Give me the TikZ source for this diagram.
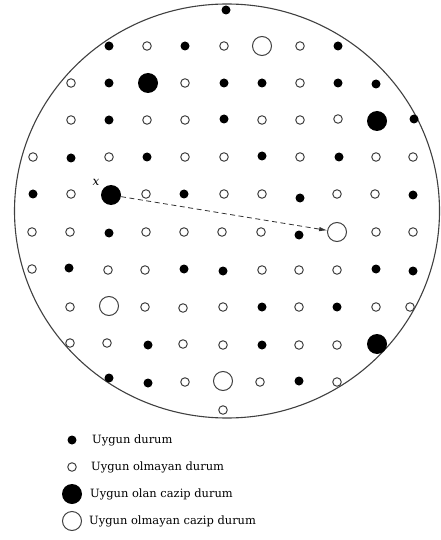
\documentclass[tikz,border=0pt]{standalone}
\usepackage{fontspec}
\setmainfont{DejaVu Serif}
\usetikzlibrary{arrows.meta}

\begin{document}
\begin{tikzpicture}[x=1bp, y=-1bp]
\tikzstyle{dotok} = [circle, inner sep=0pt, minimum size=9bp, fill=black]
\tikzstyle{dotno} = [circle, inner sep=0pt, minimum size=8.5bp, draw=black!75, line width=1bp]
\tikzstyle{bigok} = [circle, inner sep=0pt, minimum size=20bp, fill=black]
\tikzstyle{bigno} = [circle, inner sep=0pt, minimum size=19bp, draw=black!75, line width=1bp]
\tikzstyle{legtext} = [anchor=west, inner sep=0pt, font=\fontsize{11.5}{13}\selectfont]

\useasboundingbox (0,0) rectangle (441,540);

% Border
\draw[black!75, line width=1.1bp] (227,211) ellipse [x radius=212.5bp, y radius=207bp];

% Row 0
\node (r0c6) [dotok] at (226,10) {};

% Row 1
\node (r1c3) [dotok] at (109,46) {};
\node (r1c4) [dotno] at (147,46) {};
\node (r1c5) [dotok] at (185,46) {};
\node (r1c6) [dotno] at (224,46) {};
\node (r1c7) [bigno] at (262,46) {};
\node (r1c8) [dotno] at (300,46) {};
\node (r1c9) [dotok] at (338,46) {};

% Row 2
\node (r2c2) [dotno] at (71,83) {};
\node (r2c3) [dotok] at (109,83) {};
\node (r2c4) [bigok] at (148,83) {};
\node (r2c5) [dotno] at (185,83) {};
\node (r2c6) [dotok] at (224,83) {};
\node (r2c7) [dotok] at (262,83) {};
\node (r2c8) [dotno] at (300,83) {};
\node (r2c9) [dotok] at (338,83) {};
\node (r2c10) [dotok] at (376,84) {};

% Row 3
\node (r3c2) [dotno] at (71,120) {};
\node (r3c3) [dotok] at (109,120) {};
\node (r3c4) [dotno] at (147,120) {};
\node (r3c5) [dotno] at (185,120) {};
\node (r3c6) [dotok] at (224,119) {};
\node (r3c7) [dotno] at (262,120) {};
\node (r3c8) [dotno] at (300,120) {};
\node (r3c9) [dotno] at (338,119) {};
\node (r3c10) [bigok] at (377,121) {};
\node (r3c11) [dotok] at (414,119) {};

% Row 4
\node (r4c1) [dotno] at (33,157) {};
\node (r4c2) [dotok] at (71,158) {};
\node (r4c3) [dotno] at (109,157) {};
\node (r4c4) [dotok] at (147,157) {};
\node (r4c5) [dotno] at (185,157) {};
\node (r4c6) [dotno] at (224,157) {};
\node (r4c7) [dotok] at (262,156) {};
\node (r4c8) [dotno] at (300,157) {};
\node (r4c9) [dotok] at (339,157) {};
\node (r4c10) [dotno] at (376,157) {};
\node (r4c11) [dotno] at (413,157) {};

% Row 5
\node (r5c1) [dotok] at (33,194) {};
\node (r5c2) [dotno] at (71,194) {};
\node (r5c3) [bigok] at (111,195) {};
\node (r5c4) [dotno] at (146,194) {};
\node (r5c5) [dotok] at (184,194) {};
\node (r5c6) [dotno] at (224,194) {};
\node (r5c7) [dotno] at (262,194) {};
\node (r5c8) [dotok] at (300,198) {};
\node (r5c9) [dotno] at (337,194) {};
\node (r5c10) [dotno] at (375,194) {};
\node (r5c11) [dotok] at (413,195) {};

% Row 6
\node (r6c1) [dotno] at (32,232) {};
\node (r6c2) [dotno] at (70,232) {};
\node (r6c3) [dotok] at (109,233) {};
\node (r6c4) [dotno] at (146,232) {};
\node (r6c5) [dotno] at (184,232) {};
\node (r6c6) [dotno] at (222,232) {};
\node (r6c7) [dotno] at (261,232) {};
\node (r6c8) [dotok] at (299,235) {};
\node (r6c9) [bigno] at (337,232) {};
\node (r6c10) [dotno] at (376,232) {};
\node (r6c11) [dotno] at (413,232) {};

% Row 7
\node (r7c1) [dotno] at (32,269) {};
\node (r7c2) [dotok] at (69,268) {};
\node (r7c3) [dotno] at (108,270) {};
\node (r7c4) [dotno] at (145,270) {};
\node (r7c5) [dotok] at (184,269) {};
\node (r7c6) [dotok] at (223,271) {};
\node (r7c7) [dotno] at (262,270) {};
\node (r7c8) [dotno] at (299,270) {};
\node (r7c9) [dotno] at (337,270) {};
\node (r7c10) [dotok] at (376,269) {};
\node (r7c11) [dotok] at (413,271) {};

% Row 8
\node (r8c2) [dotno] at (70,307) {};
\node (r8c3) [bigno] at (109,306) {};
\node (r8c4) [dotno] at (145,307) {};
\node (r8c5) [dotno] at (183,308) {};
\node (r8c6) [dotno] at (223,307) {};
\node (r8c7) [dotok] at (262,307) {};
\node (r8c8) [dotno] at (299,307) {};
\node (r8c9) [dotok] at (337,307) {};
\node (r8c10) [dotno] at (376,307) {};
\node (r8c11) [dotno] at (410,307) {};

% Row 9
\node (r9c2) [dotno] at (70,343) {};
\node (r9c3) [dotno] at (107,343) {};
\node (r9c4) [dotok] at (148,345) {};
\node (r9c5) [dotno] at (183,344) {};
\node (r9c6) [dotno] at (223,345) {};
\node (r9c7) [dotok] at (262,345) {};
\node (r9c8) [dotno] at (299,345) {};
\node (r9c9) [dotno] at (337,345) {};
\node (r9c10) [bigok] at (377,344) {};

% Row 10
\node (r10c3) [dotok] at (109,378) {};
\node (r10c4) [dotok] at (148,383) {};
\node (r10c5) [dotno] at (185,382) {};
\node (r10c6) [bigno] at (223,381) {};
\node (r10c7) [dotno] at (260,382) {};
\node (r10c8) [dotok] at (299,381) {};
\node (r10c9) [dotno] at (337,382) {};

% Row 11
\node (r11c6) [dotno] at (223,410) {};

% Move
\node (xlabel) [inner sep=0pt, font=\fontsize{12}{14}\selectfont\itshape] at (96,182) {x};
\draw[black!80, line width=0.8bp, dash pattern=on 5bp off 3.5bp, -{Latex[length=8bp, width=4.5bp]}] (r5c3) -- (r6c9);

% Legend
\node (legok) [dotok] at (72,440) {};
\node (legno) [dotno] at (72,467) {};
\node (legbigok) [bigok] at (72,494) {};
\node (legbigno) [bigno] at (72,521) {};
\node (txtok) [legtext] at (92,440) {Uygun durum};
\node (txtno) [legtext] at (91,467) {Uygun olmayan durum};
\node (txtbigok) [legtext] at (90,494) {Uygun olan cazip durum};
\node (txtbigno) [legtext] at (89,521) {Uygun olmayan cazip durum};
\end{tikzpicture}
\end{document}
